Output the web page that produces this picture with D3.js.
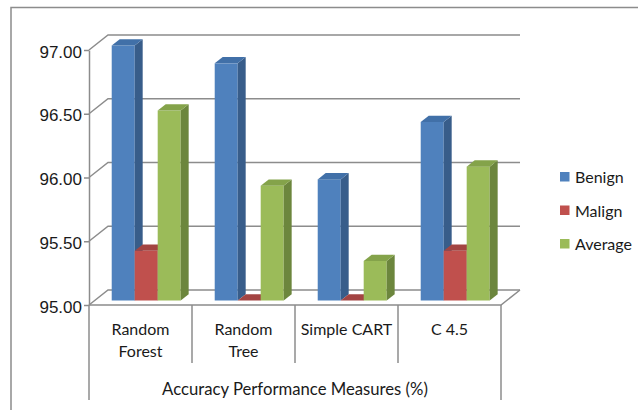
<!DOCTYPE html>
<html>
<head>
<meta charset="utf-8">
<script src="https://cdn.jsdelivr.net/npm/d3@7"></script>
<style>
  body { margin: 0; background: #fff; }
  svg { display: block; font-family: Lato, "Noto Sans", sans-serif; }
  .tick text { font-size: 17px; fill: #1a1a1a; }
</style>
</head>
<body>
<div id="chart"></div>
<script>
// Data
const categories = ['Random Forest', 'Random Tree', 'Simple CART', 'C 4.5'];
const categoryLines = [['Random', 'Forest'], ['Random', 'Tree'], ['Simple CART'], ['C 4.5']];
const seriesNames = ['Benign', 'Malign', 'Average'];
const benign = [97.00, 96.86, 95.95, 96.40];
const malign = [95.39, 95.00, 95.00, 95.39];
const average = [96.49, 95.90, 95.31, 96.05];
const yTicks = [95.00, 95.50, 96.00, 96.50, 97.00];

const seriesValues = { Benign: benign, Malign: malign, Average: average };
const colors = {
    Benign:  { front: '#4F81BD', side: '#385D8A', top: '#4170A8' },
    Malign:  { front: '#C0504D', side: '#8C3A38', top: '#A34442' },
    Average: { front: '#9BBB59', side: '#6C863D', top: '#84A34A' }
};

const W = 638, H = 410;
const lineColor = '#8c8c8c';

// wall depth offset and bar placement inside the depth
const depth = { dx: 19, dy: -15 };
const barFront = 0.3, barBack = 0.72;

const svg = d3.select('#chart')
    .append('svg')
    .attr('width', W)
    .attr('height', H);

// outer frame
svg.append('rect')
    .attr('x', 11).attr('y', 7.5)
    .attr('width', 640).attr('height', 420)
    .attr('fill', 'none')
    .attr('stroke', lineColor)
    .attr('stroke-width', 1.5);

// Scales
const x = d3.scaleBand()
    .domain(categories)
    .range([89, 501]);

const xInner = d3.scaleBand()
    .domain(seriesNames)
    .range([0, x.bandwidth()])
    .paddingInner(0)
    .paddingOuter(0.74);

const y = d3.scaleLinear()
    .domain([95, 97])
    .range([305, 50]);

const x0 = x.range()[0], x1 = x.range()[1];

// Back wall gridlines + side wall diagonals
const grid = svg.append('g')
    .attr('stroke', lineColor)
    .attr('stroke-width', 1.5)
    .attr('fill', 'none');

yTicks.forEach(v => {
    grid.append('path')
        .attr('d', `M${x0},${y(v)} L${x0 + depth.dx},${y(v) + depth.dy} L${x1 + depth.dx},${y(v) + depth.dy}`);
});

// floor front edge and right edge
grid.append('path')
    .attr('d', `M${x0},${y(95)} L${x1},${y(95)} L${x1 + depth.dx},${y(95) + depth.dy}`);

// Y axis
const yAxis = d3.axisLeft(y)
    .tickValues(yTicks)
    .tickFormat(d3.format('.2f'))
    .tickSize(5)
    .tickSizeOuter(0);

const yg = svg.append('g')
    .attr('transform', `translate(${x0},0)`)
    .call(yAxis);
yg.select('.domain').attr('stroke', lineColor).attr('stroke-width', 1.5);
yg.selectAll('.tick line').attr('stroke', lineColor).attr('stroke-width', 1.5);
yg.selectAll('.tick text').attr('x', -7).attr('dy', '0.42em');

// Category dividers
const bounds = categories.map(c => x(c)).concat([x1]);
svg.append('g')
    .selectAll('line')
    .data(bounds)
    .enter()
    .append('line')
    .attr('x1', d => d).attr('x2', d => d)
    .attr('y1', y(95))
    .attr('y2', (d, i) => (i === 0 || i === bounds.length - 1) ? 400 : 363)
    .attr('stroke', lineColor)
    .attr('stroke-width', 1.5);

// Category labels
const catLabels = svg.append('g')
    .attr('font-size', 16)
    .attr('fill', '#1a1a1a')
    .attr('text-anchor', 'middle');

categories.forEach((c, i) => {
    const t = catLabels.append('text')
        .attr('x', x(c) + x.bandwidth() / 2)
        .attr('y', 335);
    categoryLines[i].forEach((line, j) => {
        t.append('tspan')
            .attr('x', x(c) + x.bandwidth() / 2)
            .attr('dy', j === 0 ? 0 : 22)
            .text(line);
    });
});

// Axis title
svg.append('text')
    .attr('x', (x0 + x1) / 2)
    .attr('y', 395)
    .attr('text-anchor', 'middle')
    .attr('font-size', 16.7)
    .attr('fill', '#1a1a1a')
    .text('Accuracy Performance Measures (%)');

// Bars (3D look), drawn left to right
const fdx = depth.dx * barFront, fdy = depth.dy * barFront;
const bdx = depth.dx * (barBack - barFront), bdy = depth.dy * (barBack - barFront);

const bars = svg.append('g');
categories.forEach((c, i) => {
    seriesNames.forEach(s => {
        const v = Math.max(95, seriesValues[s][i]);
        const left = x(c) + xInner(s) + fdx;
        const right = left + xInner.bandwidth();
        const top = y(v) + fdy;
        const base = y(95) + fdy;
        const col = colors[s];
        const g = bars.append('g');
        g.append('rect')
            .attr('x', left).attr('y', top)
            .attr('width', right - left)
            .attr('height', base - top)
            .attr('fill', col.front);
        g.append('path')
            .attr('d', `M${right},${top} L${right + bdx},${top + bdy} L${right + bdx},${base + bdy} L${right},${base}Z`)
            .attr('fill', col.side);
        g.append('path')
            .attr('d', `M${left},${top} L${right},${top} L${right + bdx},${top + bdy} L${left + bdx},${top + bdy}Z`)
            .attr('fill', col.top);
    });
});

// Legend
const legend = svg.append('g')
    .attr('font-size', 16)
    .attr('fill', '#1a1a1a');

seriesNames.forEach((s, i) => {
    const by = 183 + i * 33.5;
    legend.append('rect')
        .attr('x', 560).attr('y', by - 11)
        .attr('width', 9.5).attr('height', 9.5)
        .attr('fill', colors[s].front);
    legend.append('text')
        .attr('x', 575).attr('y', by)
        .text(s);
});
</script>
</body>
</html>
